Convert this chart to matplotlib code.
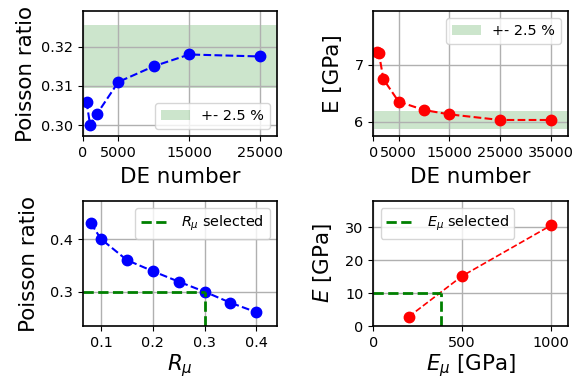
import numpy as np
from matplotlib import pyplot as plt

# DE number convergence, Poisson ratio
de_nu = [500, 1000, 2000, 5000, 10000, 15000, 25000]
nu_de = [0.3060, 0.3000, 0.3029, 0.3110, 0.3150, 0.3180, 0.3175]

# DE number convergence, Young's modulus
de_e = [800, 1100, 2000, 5000, 10000, 15000, 25000, 35000]
e_de = [7.234, 7.205, 6.749, 6.357, 6.21, 6.134, 6.035, 6.035]

# calibration of R_mu
r_mu = [0.08, 0.1, 0.15, 0.2, 0.25, 0.3, 0.35, 0.4]
nu_r = [0.4304, 0.400, 0.360, 0.339, 0.319, 0.300, 0.279, 0.261]
r_sel, nu_target = 0.3, 0.3

# calibration of E_mu
e_mu = [200, 500, 1000]
e_macro = [2.83, 15.15, 30.5]
e_sel, e_target = 380, 10

tol = 0.025
fs_tick = 10.4
fs_lab = 15.4
fs_leg = 10.4
ms = 7.5

plt.rcParams['axes.linewidth'] = 1.2
plt.rcParams['xtick.labelsize'] = fs_tick
plt.rcParams['ytick.labelsize'] = fs_tick

fig = plt.figure(figsize=(5.83, 3.78), dpi=100)
W, H = 583, 378


def box(l, t, r, b):
    return [l / W, 1 - b / H, (r - l) / W, (b - t) / H]


ax1 = fig.add_axes(box(83, 11, 277, 136))
ax2 = fig.add_axes(box(373.3, 11, 568, 136))
ax3 = fig.add_axes(box(83, 201, 277, 326))
ax4 = fig.add_axes(box(373.3, 201, 568, 326))

# --- top left
ref = nu_de[-1]
ax1.axhspan(ref * (1 - tol), ref * (1 + tol), color='green', alpha=0.2, lw=0, label='+- 2.5 %')
ax1.plot(de_nu, nu_de, 'o--', color='blue', ms=ms, lw=1.5)
ax1.set_xlim(0, 27400)
ax1.set_ylim(0.2972, 0.3291)
ax1.set_xticks([0, 5000, 15000, 25000])
ax1.set_yticks([0.30, 0.31, 0.32])
ax1.set_xlabel('DE number', fontsize=fs_lab, labelpad=5)
ax1.set_ylabel('Poisson ratio', fontsize=fs_lab, labelpad=4)
ax1.grid(True, color='#b0b0b0', lw=1)
ax1.legend(loc='lower right', fontsize=fs_leg)

# --- top right
ref = e_de[-1]
ax2.axhspan(ref * (1 - tol), ref * (1 + tol), color='green', alpha=0.2, lw=0, label='+- 2.5 %')
ax2.plot(de_e, e_de, 'o--', color='red', ms=ms, lw=1.5)
ax2.set_xlim(0, 38420)
ax2.set_ylim(5.754, 7.947)
ax2.set_xticks([0, 5000, 15000, 25000, 35000])
ax2.set_yticks([6, 7])
ax2.set_xlabel('DE number', fontsize=fs_lab, labelpad=5)
ax2.set_ylabel('E [GPa]', fontsize=fs_lab, labelpad=8)
ax2.grid(True, color='#b0b0b0', lw=1)
ax2.legend(loc='upper right', fontsize=fs_leg)

# --- bottom left
xl, yl = (0.0652, 0.4399), (0.2348, 0.4722)
ax3.plot(r_mu, nu_r, 'o--', color='blue', ms=ms, lw=1.5)
ax3.plot([xl[0], r_sel], [nu_target, nu_target], '--', color='green', lw=2, label=r'$R_\mu$ selected')
ax3.plot([r_sel, r_sel], [yl[0], nu_target], '--', color='green', lw=2)
ax3.set_xlim(*xl)
ax3.set_ylim(*yl)
ax3.set_xticks([0.1, 0.2, 0.3, 0.4])
ax3.set_yticks([0.3, 0.4])
ax3.set_xlabel(r'$R_\mu$', fontsize=fs_lab, labelpad=2)
ax3.set_ylabel('Poisson ratio', fontsize=fs_lab, labelpad=8)
ax3.grid(True, color='#b0b0b0', lw=1)
ax3.legend(loc='upper right', fontsize=fs_leg)

# --- bottom right
xl, yl = (0, 1096), (0, 37.9)
ax4.plot(e_mu, e_macro, 'o--', color='red', ms=ms, lw=1.2)
ax4.plot([xl[0], e_sel], [e_target, e_target], '--', color='green', lw=2, label=r'$E_\mu$ selected')
ax4.plot([e_sel, e_sel], [yl[0], e_target], '--', color='green', lw=2)
ax4.set_xlim(*xl)
ax4.set_ylim(*yl)
ax4.set_xticks([0, 500, 1000])
ax4.set_yticks([0, 10, 20, 30])
ax4.set_xlabel(r'$E_\mu$ [GPa]', fontsize=fs_lab, labelpad=2)
ax4.set_ylabel(r'$E$ [GPa]', fontsize=fs_lab, labelpad=8)
ax4.grid(True, color='#b0b0b0', lw=1)
ax4.legend(loc='upper left', fontsize=fs_leg)

fig.savefig('out.png', dpi=100)
